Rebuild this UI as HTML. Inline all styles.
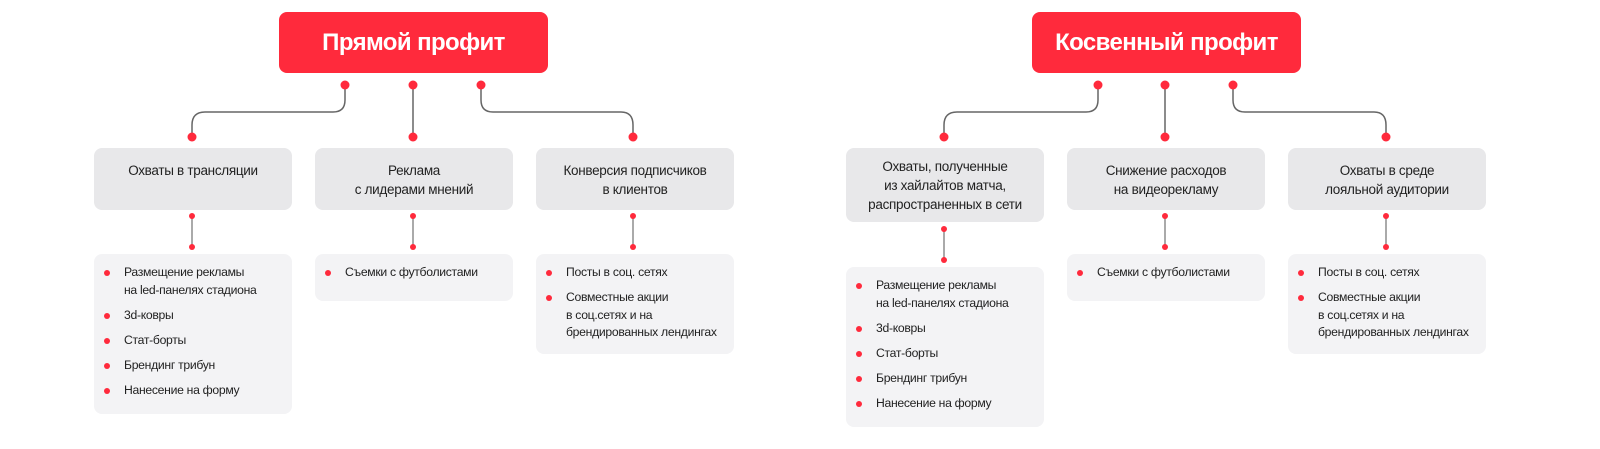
<!DOCTYPE html>
<html><head><meta charset="utf-8"><style>
body{margin:0;width:1600px;height:449px;background:#fff;position:relative;overflow:hidden;font-family:"Liberation Sans",sans-serif;color:#222}
.t{position:absolute;height:61px;width:269px;background:#ff2a3c;border-radius:8px;color:#fff;font-weight:bold;font-size:24px;letter-spacing:-0.6px;display:flex;align-items:center;justify-content:center}
.b{position:absolute;background:#e8e8ea;border-radius:8px;width:198px;font-size:13.5px;letter-spacing:-0.3px;line-height:19px;text-align:center;box-sizing:border-box;padding-top:13px;white-space:nowrap}
.l{position:absolute;background:#f3f3f5;border-radius:8px;width:198px;box-sizing:border-box;padding:10px 0 0 30px;font-size:12.2px;letter-spacing:-0.3px;line-height:17.5px;white-space:nowrap}
.l div{position:relative;margin-bottom:7.5px}
.l div:before{content:"";position:absolute;left:-20px;top:6px;width:6px;height:6px;border-radius:50%;background:#ff2a3c}
svg{position:absolute;left:0;top:0}
</style></head><body>
<svg width="1600" height="449">
<g fill="none" stroke="#666" stroke-width="1.5">
<path d="M345 85 V100 Q345 112 333 112 H205 Q192 112 192 125 V137"/>
<path d="M413 85 V137"/>
<path d="M481 85 V100 Q481 112 493 112 H621 Q633 112 633 125 V137"/>
<path d="M1098 85 V100 Q1098 112 1086 112 H957 Q944 112 944 125 V137"/>
<path d="M1165 85 V137"/>
<path d="M1233 85 V100 Q1233 112 1245 112 H1374 Q1386 112 1386 125 V137"/>
</g>
<g fill="none" stroke="#aaa" stroke-width="2">
<path d="M192 216 V247 M413 216 V247 M633 216 V247 M944 229 V260 M1165 216 V247 M1386 216 V247"/>
</g>
<g fill="#ff2a3c">
<circle cx="345" cy="85" r="4.5"/><circle cx="413" cy="85" r="4.5"/><circle cx="481" cy="85" r="4.5"/>
<circle cx="192" cy="137" r="4.5"/><circle cx="413" cy="137" r="4.5"/><circle cx="633" cy="137" r="4.5"/>
<circle cx="1098" cy="85" r="4.5"/><circle cx="1165" cy="85" r="4.5"/><circle cx="1233" cy="85" r="4.5"/>
<circle cx="944" cy="137" r="4.5"/><circle cx="1165" cy="137" r="4.5"/><circle cx="1386" cy="137" r="4.5"/>
<circle cx="192" cy="216" r="3"/><circle cx="192" cy="247" r="3"/>
<circle cx="413" cy="216" r="3"/><circle cx="413" cy="247" r="3"/>
<circle cx="633" cy="216" r="3"/><circle cx="633" cy="247" r="3"/>
<circle cx="944" cy="229" r="3"/><circle cx="944" cy="260" r="3"/>
<circle cx="1165" cy="216" r="3"/><circle cx="1165" cy="247" r="3"/>
<circle cx="1386" cy="216" r="3"/><circle cx="1386" cy="247" r="3"/>
</g>
</svg>
<div class="t" style="left:279px;top:12px">Прямой профит</div>
<div class="t" style="left:1032px;top:12px">Косвенный профит</div>

<div class="b" style="left:94px;top:148px;height:62px">Охваты в трансляции</div>
<div class="b" style="left:315px;top:148px;height:62px">Реклама<br>с лидерами мнений</div>
<div class="b" style="left:536px;top:148px;height:62px">Конверсия подписчиков<br>в клиентов</div>
<div class="b" style="left:846px;top:148px;height:74px;padding-top:9px">Охваты, полученные<br>из хайлайтов матча,<br>распространенных в сети</div>
<div class="b" style="left:1067px;top:148px;height:62px">Снижение расходов<br>на видеорекламу</div>
<div class="b" style="left:1288px;top:148px;height:62px">Охваты в среде<br>лояльной аудитории</div>

<div class="l" style="left:94px;top:254px;height:160px"><div>Размещение рекламы<br>на led-панелях стадиона</div><div>3d-ковры</div><div>Стат-борты</div><div>Брендинг трибун</div><div>Нанесение на форму</div></div>
<div class="l" style="left:315px;top:254px;height:47px"><div>Съемки с футболистами</div></div>
<div class="l" style="left:536px;top:254px;height:100px"><div>Посты в соц. сетях</div><div>Совместные акции<br>в соц.сетях и на<br>брендированных лендингах</div></div>
<div class="l" style="left:846px;top:267px;height:160px"><div>Размещение рекламы<br>на led-панелях стадиона</div><div>3d-ковры</div><div>Стат-борты</div><div>Брендинг трибун</div><div>Нанесение на форму</div></div>
<div class="l" style="left:1067px;top:254px;height:47px"><div>Съемки с футболистами</div></div>
<div class="l" style="left:1288px;top:254px;height:100px"><div>Посты в соц. сетях</div><div>Совместные акции<br>в соц.сетях и на<br>брендированных лендингах</div></div>
</body></html>
